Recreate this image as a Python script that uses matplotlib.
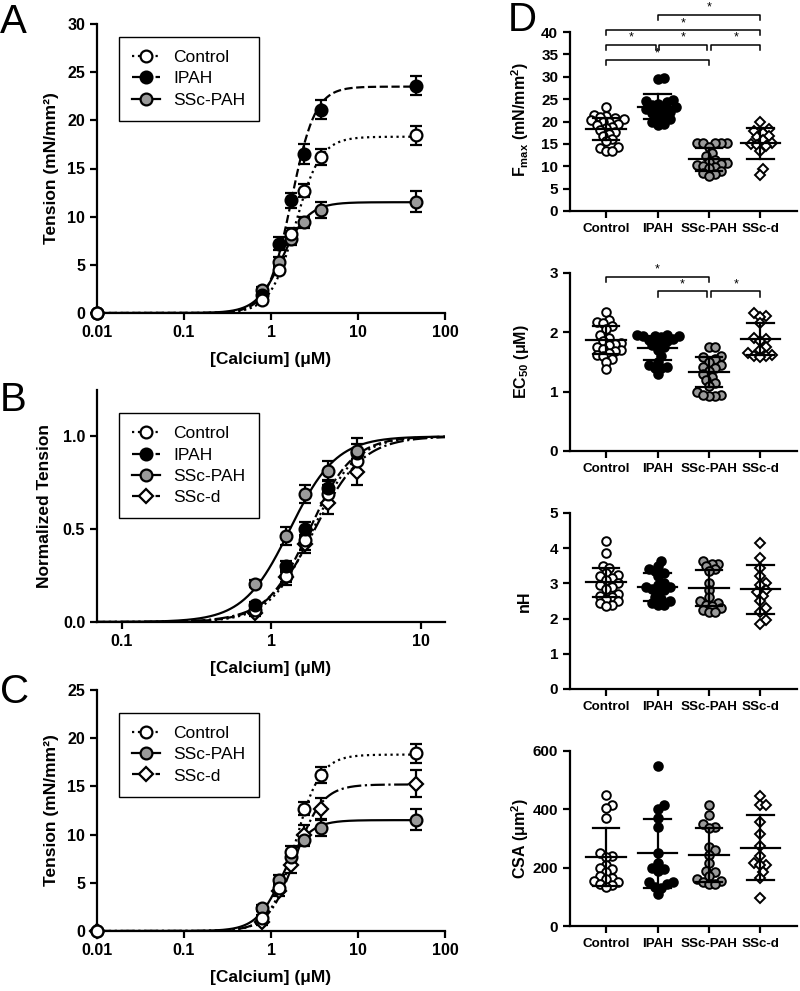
import numpy as np
import matplotlib
matplotlib.use('Agg')
import matplotlib.pyplot as plt

plt.rcParams['font.family'] = ['Liberation Sans', 'DejaVu Sans']
plt.rcParams['mathtext.fontset'] = 'custom'
plt.rcParams['mathtext.rm'] = 'Liberation Sans:bold'
plt.rcParams['mathtext.it'] = 'Liberation Sans:bold'
plt.rcParams['mathtext.bf'] = 'Liberation Sans:bold'

# ---------------- data ----------------
conc = [0.01, 0.78, 1.25, 1.68, 2.4, 3.75, 47]

# panel A / C : tension (mN/mm2), mean and SEM
ten_ctrl = [0, 1.3, 4.5, 8.2, 12.7, 16.2, 18.45]
err_ctrl = [0, 0.4, 0.5, 0.6, 0.7, 0.8, 1.0]
ten_ipah = [0, 1.9, 7.2, 11.7, 16.5, 21.1, 23.6]
err_ipah = [0, 0.5, 0.7, 0.8, 1.0, 1.0, 1.0]
ten_sscpah = [0, 2.4, 5.3, 7.7, 9.4, 10.7, 11.55]
err_sscpah = [0, 0.3, 0.5, 0.6, 0.6, 0.8, 1.1]
ten_sscd = [0, 0.9, 4.2, 6.85, 10.0, 12.7, 15.3]
err_sscd = [0, 0.3, 0.6, 0.8, 1.0, 1.1, 1.4]

# Hill fits: (Fmax, EC50, nH)
fit_ctrl = (18.3, 1.9, 3.0)
fit_ipah = (23.5, 1.72, 3.2)
fit_sscpah = (11.5, 1.35, 2.9)
fit_sscd = (15.2, 1.9, 2.8)

# panel B : normalized tension
conc_b = [0.78, 1.25, 1.68, 2.4, 3.75]
nrm_ctrl = [0.067, 0.247, 0.44, 0.69, 0.87]
nrm_ctrl_e = [0.02, 0.03, 0.05, 0.05, 0.06]
nrm_ipah = [0.09, 0.30, 0.50, 0.72, 0.91]
nrm_ipah_e = [0.02, 0.03, 0.04, 0.04, 0.05]
nrm_sscpah = [0.207, 0.463, 0.69, 0.815, 0.92]
nrm_sscpah_e = [0.02, 0.05, 0.05, 0.05, 0.07]
nrm_sscd = [0.05, 0.24, 0.42, 0.64, 0.81]
nrm_sscd_e = [0.02, 0.04, 0.05, 0.06, 0.07]
nfit_ctrl = (1.9, 3.0)
nfit_ipah = (1.8, 3.0)
nfit_sscpah = (1.33, 2.8)
nfit_sscd = (1.95, 2.7)

# panel D
groups = ['Control', 'IPAH', 'SSc-PAH', 'SSc-d']

fmax_ctrl = [23.2, 21.5, 21.2, 21.0, 20.8, 20.5, 20.3, 20.0, 19.8, 19.5, 19.2, 18.8, 18.5, 18.0, 17.6, 17.2, 16.8, 16.0, 15.6, 14.2, 14.0, 13.3, 13.3]
fmax_ipah = [29.7, 29.5, 24.8, 24.5, 24.3, 24.0, 23.6, 23.3, 23.0, 22.8, 22.5, 22.2, 22.0, 21.5, 21.0, 20.6, 19.8, 19.5, 19.3]
fmax_sscpah = [15.3, 15.3, 15.2, 15.2, 15.1, 14.2, 13.0, 12.2, 11.5, 11.0, 10.8, 10.5, 10.2, 10.0, 9.8, 9.5, 9.0, 8.5, 8.2, 7.8]
fmax_sscd = [19.8, 18.3, 17.8, 17.5, 16.8, 16.5, 15.8, 15.2, 15.0, 14.8, 14.5, 13.5, 9.3, 8.0]
fmax_mean = [18.3, 23.3, 11.55, 15.1]
fmax_sd = [2.5, 2.8, 2.6, 3.4]

ec_ctrl = [2.35, 2.2, 2.18, 2.15, 2.1, 2.05, 1.95, 1.9, 1.85, 1.82, 1.8, 1.78, 1.75, 1.72, 1.7, 1.68, 1.65, 1.62, 1.6, 1.55, 1.5, 1.38]
ec_ipah = [1.96, 1.95, 1.94, 1.93, 1.93, 1.92, 1.89, 1.87, 1.85, 1.82, 1.78, 1.75, 1.7, 1.6, 1.5, 1.45, 1.42, 1.4, 1.4, 1.3]
ec_sscpah = [1.75, 1.75, 1.6, 1.58, 1.55, 1.5, 1.45, 1.42, 1.4, 1.35, 1.3, 1.25, 1.2, 1.15, 1.1, 1.0, 0.95, 0.93, 0.93, 0.95]
ec_sscd = [2.32, 2.28, 2.26, 2.15, 1.9, 1.88, 1.85, 1.75, 1.7, 1.65, 1.62, 1.6, 1.6, 1.58]
ec_mean = [1.87, 1.73, 1.33, 1.89]
ec_sd = [0.23, 0.2, 0.25, 0.27]

nh_ctrl = [4.2, 3.85, 3.5, 3.45, 3.3, 3.25, 3.2, 3.15, 3.1, 3.0, 2.95, 2.9, 2.85, 2.7, 2.65, 2.6, 2.55, 2.5, 2.45, 2.4, 2.35]
nh_ipah = [3.65, 3.5, 3.4, 3.35, 3.3, 3.2, 3.0, 2.95, 2.9, 2.9, 2.85, 2.8, 2.75, 2.6, 2.55, 2.5, 2.45, 2.4, 2.4]
nh_sscpah = [3.65, 3.55, 3.55, 3.5, 3.4, 3.35, 3.0, 2.8, 2.6, 2.5, 2.45, 2.4, 2.35, 2.3, 2.25, 2.2, 2.2]
nh_sscd = [4.15, 3.72, 3.45, 3.2, 3.0, 2.95, 2.8, 2.75, 2.65, 2.5, 2.3, 2.2, 1.95, 1.85]
nh_mean = [3.03, 2.89, 2.87, 2.83]
nh_sd = [0.42, 0.4, 0.52, 0.69]

csa_ctrl = [450, 415, 405, 370, 250, 240, 235, 210, 200, 195, 185, 170, 165, 160, 155, 150, 145, 140, 135]
csa_ipah = [550, 415, 400, 370, 340, 250, 215, 200, 195, 190, 150, 150, 145, 135, 130, 110]
csa_sscpah = [415, 380, 350, 340, 335, 270, 260, 245, 215, 190, 185, 170, 160, 155, 150, 145, 145]
csa_sscd = [445, 415, 415, 355, 315, 275, 240, 215, 210, 210, 185, 165, 95]
csa_mean = [237, 249, 243, 269]
csa_sd = [100, 118, 93, 111]

GRAY = '#9a9a9a'
sty = {
    'Control': dict(marker='o', mfc='white', ls=':'),
    'IPAH': dict(marker='o', mfc='black', ls='--'),
    'SSc-PAH': dict(marker='o', mfc=GRAY, ls='-'),
    'SSc-d': dict(marker='D', mfc='white', ls='-.'),
}

W, H = 800, 991
fig = plt.figure(figsize=(W / 100, H / 100), dpi=100, facecolor='white')


def px_axes(l, r, t, b):
    return fig.add_axes([l / W, 1 - b / H, (r - l) / W, (b - t) / H])


def style_ax(ax, fs=11.5):
    for s in ['top', 'right']:
        ax.spines[s].set_visible(False)
    for s in ['left', 'bottom']:
        ax.spines[s].set_linewidth(1.6)
    ax.tick_params(direction='out', length=5, width=1.6, labelsize=fs)
    for lab in ax.get_xticklabels() + ax.get_yticklabels():
        lab.set_fontweight('bold')


def hill(x, fmax, ec, n):
    return fmax * x ** n / (x ** n + ec ** n)


def curve_panel(ax, series, xlo, xhi):
    for name, x, y, e, fit in series:
        s = sty[name]
        xs = np.logspace(np.log10(xlo), np.log10(xhi), 400)
        ax.plot(xs, hill(xs, *fit), color='black', lw=1.6, ls=s['ls'], zorder=2)
    for name, x, y, e, fit in series:
        s = sty[name]
        ms = 8.5 if s['marker'] == 'o' else 7.0
        ax.errorbar(x, y, yerr=e, fmt=s['marker'], mfc=s['mfc'], mec='black', mew=1.6,
                    ms=ms, color='black', elinewidth=1.6, capsize=4, capthick=1.6,
                    clip_on=False, zorder=3)
    # legend handles
    hs = []
    for name, x, y, e, fit in series:
        s = sty[name]
        ms = 8.5 if s['marker'] == 'o' else 7.0
        h, = ax.plot([], [], color='black', lw=1.6, ls=s['ls'], marker=s['marker'],
                     mfc=s['mfc'], mec='black', mew=1.6, ms=ms, label=name)
        hs.append(h)
    return hs


def log_xaxis(ax, lo, hi, ticks):
    ax.set_xscale('log')
    ax.set_xlim(lo, hi)
    ax.set_xticks(ticks)
    ax.set_xticklabels([('%g' % t) for t in ticks])
    ax.xaxis.set_minor_locator(matplotlib.ticker.NullLocator())
    ax.set_xlabel('[Calcium] (μM)', fontsize=12.5, fontweight='bold', labelpad=9)


def legend(ax, hs, anchor):
    lg = ax.legend(handles=hs, loc='upper left', bbox_to_anchor=anchor, frameon=True,
                   fancybox=False, edgecolor='black', framealpha=1, fontsize=12.5,
                   handlelength=1.6, handletextpad=0.8, borderpad=0.75, labelspacing=0.35,
                   borderaxespad=0)
    lg.get_frame().set_linewidth(1.0)


# ---------------- panel A ----------------
axA = px_axes(97, 445, 24, 313)
hs = curve_panel(axA, [
    ('SSc-PAH', conc, ten_sscpah, err_sscpah, fit_sscpah),
    ('IPAH', conc, ten_ipah, err_ipah, fit_ipah),
    ('Control', conc, ten_ctrl, err_ctrl, fit_ctrl),
], 0.01, 47)
axA.set_ylim(0, 30)
axA.set_yticks(range(0, 31, 5))
log_xaxis(axA, 0.01, 100, [0.01, 0.1, 1, 10, 100])
axA.set_ylabel('Tension (mN/mm²)', fontsize=12.5, fontweight='bold', labelpad=6)
style_ax(axA)
legend(axA, hs[::-1], (0.063, 0.955))

# ---------------- panel B ----------------
axB = px_axes(97, 445, 390, 622)
bser = [
    ('SSc-d', conc_b, nrm_sscd, nrm_sscd_e, (1.0,) + nfit_sscd),
    ('Control', conc_b, nrm_ctrl, nrm_ctrl_e, (1.0,) + nfit_ctrl),
    ('IPAH', conc_b, nrm_ipah, nrm_ipah_e, (1.0,) + nfit_ipah),
    ('SSc-PAH', conc_b, nrm_sscpah, nrm_sscpah_e, (1.0,) + nfit_sscpah),
]
hs = curve_panel(axB, bser, 0.068, 14.5)
axB.set_ylim(0, 1.25)
axB.set_yticks([0, 0.5, 1.0])
axB.set_yticklabels(['0.0', '0.5', '1.0'])
log_xaxis(axB, 0.068, 14.5, [0.1, 1, 10])
axB.set_ylabel('Normalized Tension', fontsize=12.5, fontweight='bold', labelpad=8)
style_ax(axB)
legend(axB, [hs[1], hs[2], hs[3], hs[0]], (0.063, 0.90))

# ---------------- panel C ----------------
axC = px_axes(97, 445, 690, 931)
hs = curve_panel(axC, [
    ('SSc-d', conc, ten_sscd, err_sscd, fit_sscd),
    ('SSc-PAH', conc, ten_sscpah, err_sscpah, fit_sscpah),
    ('Control', conc, ten_ctrl, err_ctrl, fit_ctrl),
], 0.01, 47)
axC.set_ylim(0, 25)
axC.set_yticks(range(0, 26, 5))
log_xaxis(axC, 0.01, 100, [0.01, 0.1, 1, 10, 100])
axC.set_ylabel('Tension (mN/mm²)', fontsize=12.5, fontweight='bold', labelpad=6)
style_ax(axC)
legend(axC, hs[::-1], (0.063, 0.905))


# ---------------- panel D ----------------
def swarm_offsets(ax, xc, vals, d):
    pts = ax.transData.transform(np.column_stack([np.full(len(vals), xc), vals]))
    ys = pts[:, 1]
    order = np.argsort(ys)
    placed = []
    offs = np.zeros(len(vals))
    cands = [0]
    for k in range(1, 12):
        cands += [k * d * 0.5, -k * d * 0.5]
    for i in order:
        for c in cands:
            if all((c - px) ** 2 + (ys[i] - py) ** 2 >= d ** 2 for px, py in placed):
                offs[i] = c
                placed.append((c, ys[i]))
                break
    x0 = ax.transData.transform([[0, 0]])[0, 0]
    x1 = ax.transData.transform([[1, 0]])[0, 0]
    return xc + offs / (x1 - x0)


def dot_panel(ax, data, means, sds, ylim, yticks, ylabel, label_y=0.5):
    ax.set_xlim(-0.70, 3.71)
    ax.set_ylim(*ylim)
    ax.set_yticks(yticks)
    ax.set_xticks(range(4))
    ax.set_xticklabels(groups)
    for i, (g, vals) in enumerate(zip(groups, data)):
        s = sty[g]
        xs = swarm_offsets(ax, i, vals, 6.0)
        ms = 6.2 if s['marker'] == 'o' else 5.2
        ax.plot(xs, vals, ls='none', marker=s['marker'], mfc=s['mfc'], mec='black',
                mew=1.4, ms=ms, zorder=3, clip_on=False)
        m, sd = means[i], sds[i]
        ax.plot([i - 0.38, i + 0.38], [m, m], color='black', lw=1.6, zorder=4)
        ax.plot([i, i], [m - sd, m + sd], color='black', lw=1.6, zorder=4)
        for yy in (m - sd, m + sd):
            ax.plot([i - 0.26, i + 0.26], [yy, yy], color='black', lw=1.6, zorder=4)
    ax.set_ylabel(ylabel, fontsize=11.5, fontweight='bold')
    ax.yaxis.set_label_coords(-0.17, label_y)
    style_ax(ax, fs=11)
    for lab in ax.get_xticklabels():
        lab.set_fontsize(9.6)


def bracket(ax, x1, x2, y, h):
    ax.plot([x1, x1, x2, x2], [y - h, y, y, y - h], color='black', lw=1.1, clip_on=False)
    ax.text((x1 + x2) / 2, y + h * 0.15, '*', ha='center', va='bottom', fontsize=9,
            clip_on=False)


axD1 = px_axes(570, 797, 32, 211)
dot_panel(axD1, [fmax_ctrl, fmax_ipah, fmax_sscpah, fmax_sscd], fmax_mean, fmax_sd,
          (0, 40), range(0, 41, 5), r'F$_{max}$ (mN/mm$^2$)', label_y=0.51)
for x1, x2, y in [(1, 3, 43.9), (0, 3, 40.5), (0, 0.98, 37.2), (1.02, 1.96, 37.2),
                  (2.04, 3, 37.2), (0, 2, 33.8)]:
    bracket(axD1, x1, x2, y, 1.2)

axD2 = px_axes(570, 797, 273, 451)
dot_panel(axD2, [ec_ctrl, ec_ipah, ec_sscpah, ec_sscd], ec_mean, ec_sd,
          (0, 3), range(0, 4), r'EC$_{50}$ (μM)')
for x1, x2, y in [(0, 2, 2.94), (1, 1.96, 2.69), (2.04, 3, 2.69)]:
    bracket(axD2, x1, x2, y, 0.09)

axD3 = px_axes(570, 797, 513, 689)
dot_panel(axD3, [nh_ctrl, nh_ipah, nh_sscpah, nh_sscd], nh_mean, nh_sd,
          (0, 5), range(0, 6), 'nH')

axD4 = px_axes(570, 797, 751, 926)
dot_panel(axD4, [csa_ctrl, csa_ipah, csa_sscpah, csa_sscd], csa_mean, csa_sd,
          (0, 600), [0, 200, 400, 600], r'CSA (μm$^2$)')

# panel letters
for lab, x, y in [('A', 0, 33), ('B', 0, 411), ('C', 0, 703), ('D', 508, 31)]:
    fig.text(x / W, 1 - y / H, lab, fontsize=29, va='baseline', ha='left')

fig.savefig('out.png', dpi=100, facecolor='white')
